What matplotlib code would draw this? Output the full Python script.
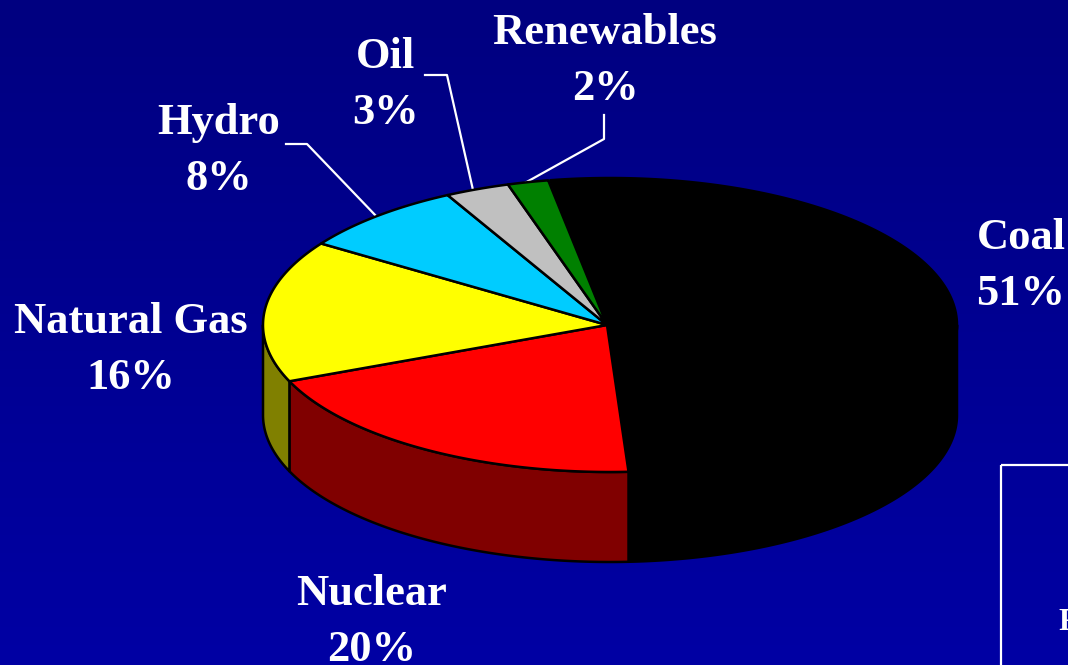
"""Six-slice 3D-looking pie of electricity sources, on a navy slide background."""
import numpy as np
import matplotlib
matplotlib.use("Agg")
import matplotlib.pyplot as plt
from matplotlib.patches import Rectangle

# ─── data ────────────────────────────────────────────────────────────────────
sources = ["Coal", "Nuclear", "Natural Gas", "Hydro", "Oil", "Renewables"]
shares = [51.9, 19.6, 15.6, 7.9, 3.0, 1.9]          # as drawn, in percent
share_labels = ["51%", "20%", "16%", "8%", "3%", "2%"]
top_colors = ["#000000", "#FF0000", "#FFFF00", "#00CCFF", "#C0C0C0", "#008000"]
side_colors = ["#000000", "#800000", "#808000", "#006680", "#606060", "#004000"]

# label centre positions, same order as sources (pixels)
label_xy = [(1021, 266), (372, 622), (131, 350), (219, 151), (385, 85), (605, 61)]

# ─── pie geometry (pixels) ───────────────────────────────────────────────────
CX, CY, RX, RY = 610, 325, 347, 147
DEPTH = 90
START = -9.9        # degrees clockwise from 12 o'clock


def rim(deg):
    t = np.radians(deg)
    return CX + RX * np.sin(t), CY - RY * np.cos(t)


fig = plt.figure(figsize=(10.68, 6.65), dpi=100)
ax = fig.add_axes([0, 0, 1, 1])
ax.set_xlim(0, 1068)
ax.set_ylim(665, 0)
ax.axis("off")

# background gradient
grad = np.linspace(0, 1, 256)[:, None]
bg = np.dstack([np.zeros_like(grad), np.zeros_like(grad), (128 + 36 * grad) / 255])
ax.imshow(bg, extent=[0, 1068, 665, 0], aspect="auto", zorder=0)

# slice edges from the shares
edges = START + np.cumsum([0] + shares) * 3.6

# side walls, only on the front half of the ellipse
for a0, a1, col in zip(edges[:-1], edges[1:], side_colors):
    lo, hi = max(a0, 90), min(a1, 270)
    if lo >= hi:
        continue
    x, y = rim(np.linspace(lo, hi, 120))
    ax.fill(np.r_[x, x[::-1]], np.r_[y, y[::-1] + DEPTH], fc=col, ec="black", lw=1.8,
            zorder=2, joinstyle="round")

# top faces
for a0, a1, col in zip(edges[:-1], edges[1:], top_colors):
    x, y = rim(np.linspace(a0, a1, 160))
    ax.fill(np.r_[CX - 3, x], np.r_[CY, y], fc=col, ec="black", lw=1.8,
            zorder=3, joinstyle="round")

# leader lines
ax.plot([286, 307, 377], [144, 144, 217], color="white", lw=1.6, zorder=1.5)
ax.plot([425, 447, 473], [75, 75, 190], color="white", lw=1.6, zorder=1.5)
ax.plot([604, 604, 523], [115, 139, 184], color="white", lw=1.6, zorder=1.5)

# labels
for name, pct, (lx, ly) in zip(sources, share_labels, label_xy):
    ax.text(lx, ly, f"{name}\n{pct}", ha="center", va="center", color="white",
            family="Liberation Serif", weight="bold", fontsize=32, linespacing=1.5,
            zorder=5, clip_on=False)

# box cut off by the slide edge
ax.add_patch(Rectangle((1001, 464.5), 120, 260, fc="none", ec="white", lw=1.6, zorder=4))
ax.text(1058, 623, "F", ha="left", va="center", color="white",
        family="Liberation Serif", weight="bold", fontsize=22, zorder=5)

fig.savefig("out.png", dpi=100)
